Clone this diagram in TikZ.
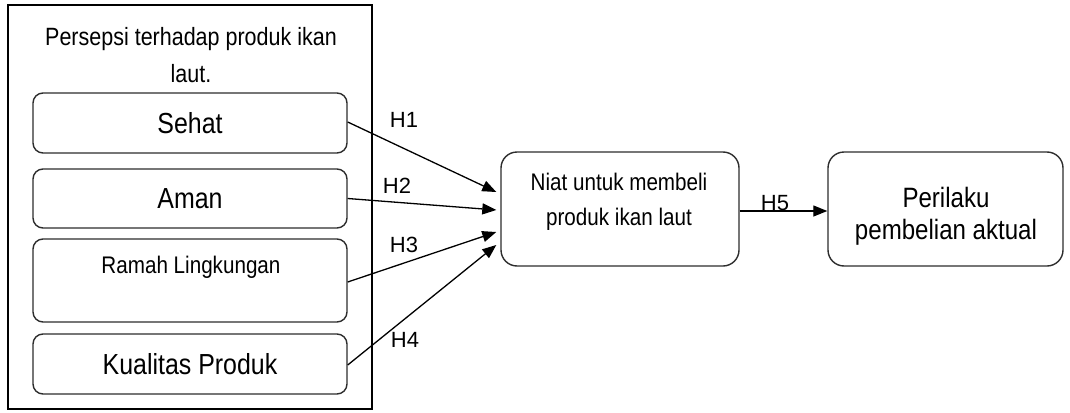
\documentclass[tikz,border=0pt]{standalone}
\usepackage{fontspec}
\setmainfont{Liberation Sans}[FakeStretch=0.86]
\newfontfamily\hlabelfont{Liberation Sans}
\usetikzlibrary{arrows.meta,calc}
\definecolor{boxline}{RGB}{45,45,45}
\tikzset{
  groupframe/.style={
    draw=black,
    line width=1.3pt,
    minimum width=364pt,
    minimum height=404pt,
    inner sep=0pt
  },
  factorbox/.style={
    draw=boxline,
    fill=white,
    line width=1.4pt,
    rounded corners=10pt,
    minimum width=314pt,
    inner sep=0pt,
    font=\fontsize{29}{34}\selectfont
  },
  stagebox/.style={
    draw=boxline,
    fill=white,
    line width=1.4pt,
    rounded corners=16pt,
    minimum height=114pt,
    inner sep=0pt
  },
  hyparrow/.style={
    draw=black,
    line width=1.3pt,
    -{Triangle[length=14pt,width=11pt]}
  },
  hlabel/.style={
    font=\hlabelfont\fontsize{22}{26}\selectfont,
    inner sep=0pt
  }
}

\begin{document}
\begin{tikzpicture}[x=1pt,y=-1pt]

  \useasboundingbox (0,0) rectangle (1070,412);

  % Frame around the four perception factors.
  \node[groupframe] (persepsi) at (190,207) {};
  \node[font=\fontsize{25}{37}\selectfont,align=center] (judul) at (191,55)
    {Persepsi terhadap produk ikan\\laut.};

  % Perception factors.
  \node[factorbox,minimum height=60pt] (sehat) at (190,123) {Sehat};
  \node[factorbox,minimum height=59pt] (aman) at (190,198.5) {Aman};
  \node[factorbox,minimum height=83pt] (ramah) at (190,280.5) {};
  \node[font=\fontsize{24}{28}\selectfont] (ramahteks) at (191,267)
    {Ramah Lingkungan};
  \node[factorbox,minimum height=60pt] (kualitas) at (190,364)
    {Kualitas Produk};

  % Intention and actual behaviour; their texts sit a little off centre.
  \node[stagebox,minimum width=238pt] (niat) at (620,209) {};
  \node[font=\fontsize{24}{35}\selectfont,align=center] (niatteks)
    at (619,202) {Niat untuk membeli\\produk ikan laut};
  \node[stagebox,minimum width=235pt] (perilaku) at (945.5,209) {};
  \node[font=\fontsize{28}{32}\selectfont,align=center] (perilakuteks)
    at (946,216) {Perilaku\\pembelian aktual};

  % Arrow ends sit slightly apart on the left side of the intention box.
  \coordinate (t1) at ($(niat.west)+(-4,-17)$);
  \coordinate (t2) at ($(niat.west)+(-4,1)$);
  \coordinate (t3) at ($(niat.west)+(-4,23)$);
  \coordinate (t4) at ($(niat.west)+(-4,36)$);

  \draw[hyparrow] ($(sehat.east)+(0,-1)$) -- (t1);
  \draw[hyparrow] (aman.east) -- (t2);
  \draw[hyparrow] ($(ramah.east)+(0,1.5)$) -- (t3);
  \draw[hyparrow] ($(kualitas.east)+(0,1)$) -- (t4);
  \draw[hyparrow] ($(niat.east)+(0,2)$) -- ($(perilaku.west)+(0,2)$);

  % Hypothesis labels.
  \node[hlabel] (h1) at (404,120) {H1};
  \node[hlabel] (h2) at (397,186) {H2};
  \node[hlabel] (h3) at (404,245) {H3};
  \node[hlabel] (h4) at (405,340) {H4};
  \node[hlabel] (h5) at (775,203) {H5};

\end{tikzpicture}
\end{document}
